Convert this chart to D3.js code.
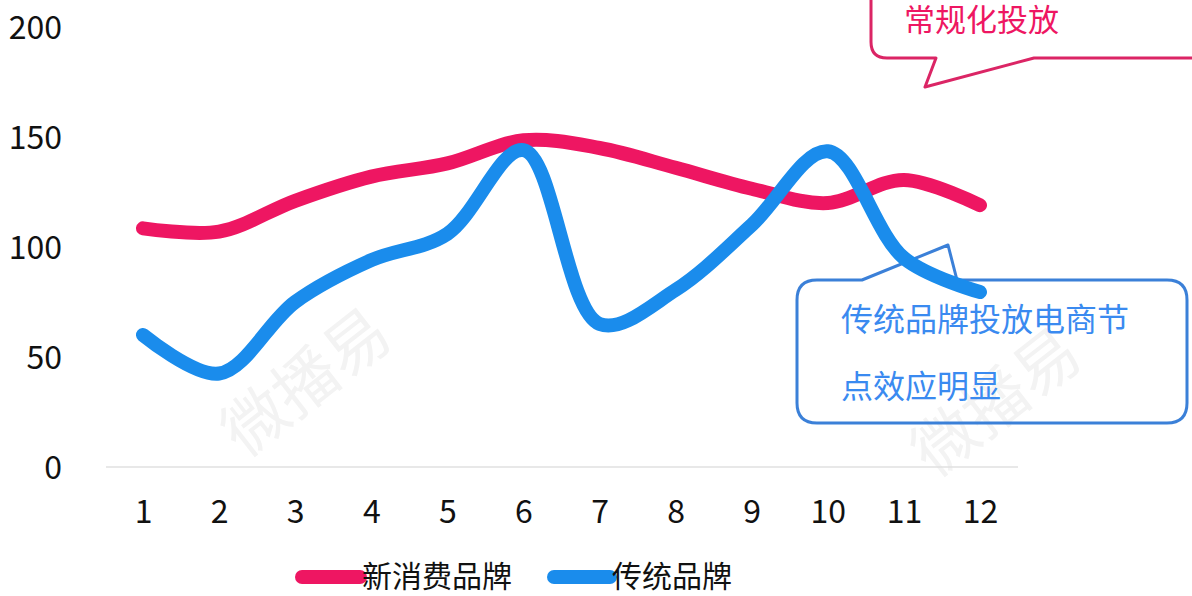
<!DOCTYPE html>
<html><head><meta charset="utf-8">
<script src="https://cdn.jsdelivr.net/npm/d3@7"></script>
<style>html,body{margin:0;padding:0;background:#fff;}svg{display:block;}</style>
</head><body>
<svg id="c" width="1192" height="596"></svg>
<script>
const months = [1,2,3,4,5,6,7,8,9,10,11,12];
const newBrand = [108.5,107,121,132,138,148.5,145,136,126.5,120,130.5,119];
const oldBrand = [60,42.5,75,94,106,144,65,80.5,110,143.5,95,79.5];
const yTicks = [0,50,100,150,200];
const seriesNames = ["新消费品牌","传统品牌"];
const noteTop = "常规化投放";
const noteBottom = ["传统品牌投放电商节","点效应明显"];

const RED = "#EE1662", BLUE = "#1A8CEC";
const svg = d3.select("#c");
const font = "'Noto Sans CJK SC','Noto Sans',sans-serif";

// faint watermarks
const wm = svg.append("g").attr("fill","#f3f3f3").attr("font-family",font).attr("font-size",64);
[[320,400],[1010,420]].forEach(([x,y])=>{
  wm.append("text").attr("transform",`translate(${x},${y}) rotate(-38)`).attr("text-anchor","middle").text("微播易");
});

const x = d3.scaleLinear().domain([1,12]).range([143,980]);
const y = d3.scaleLinear().domain([0,200]).range([467,27]);

// baseline
svg.append("line").attr("x1",106).attr("x2",1018).attr("y1",y(0)).attr("y2",y(0))
  .attr("stroke","#e0e0e0").attr("stroke-width",1.5);

// y labels
const yAxis = d3.axisLeft(y).tickValues(yTicks).tickSize(0).tickPadding(0);
const gy = svg.append("g").attr("transform","translate(62,0)").call(yAxis);
gy.select(".domain").remove();
gy.selectAll("text").attr("font-family",font).attr("font-size",32).attr("fill","#111").attr("dy","0.35em");

// x labels
const xAxis = d3.axisBottom(x).tickValues(months).tickSize(0).tickPadding(0).tickFormat(d3.format("d"));
const gx = svg.append("g").attr("transform","translate(0,512)").call(xAxis);
gx.select(".domain").remove();
gx.selectAll("text").attr("font-family",font).attr("font-size",32).attr("fill","#111").attr("dy","0.35em");

// callout top (pink)
svg.append("path")
  .attr("d","M871,-10 L871,42 Q871,58 887,58 L936,58 L925,87 L1034,58 L1200,58")
  .attr("fill","none").attr("stroke","#DB2565").attr("stroke-width",3).attr("stroke-linejoin","round");
svg.append("text").attr("x",904).attr("y",20).attr("dy","0.35em").attr("font-family",font)
  .attr("font-size",31).attr("fill",RED).text(noteTop);

// callout bottom (blue)
svg.append("path")
  .attr("d","M817,280 L862,280 L948,245 L957,280 L1167,280 Q1187,280 1187,300 L1187,403 Q1187,423 1167,423 L817,423 Q797,423 797,403 L797,300 Q797,280 817,280 Z")
  .attr("fill","none").attr("stroke","#3B80D8").attr("stroke-width",3).attr("stroke-linejoin","round");
noteBottom.forEach((t,i)=>{
  svg.append("text").attr("x",841).attr("y",320+i*67).attr("dy","0.35em").attr("font-family",font)
    .attr("font-size",32).attr("fill","#3A8AF0").text(t);
});

// lines
const line = d3.line().x((d,i)=>x(months[i])).y(d=>y(d)).curve(d3.curveCatmullRom.alpha(0.5));
[[newBrand,RED],[oldBrand,BLUE]].forEach(([data,col])=>{
  svg.append("path").datum(data).attr("d",line).attr("fill","none").attr("stroke",col)
    .attr("stroke-width",14).attr("stroke-linecap","round").attr("stroke-linejoin","round");
});

// legend
const legend = [[seriesNames[0],RED,302,360,362],[seriesNames[1],BLUE,554,610,612]];
legend.forEach(([name,col,x1,x2,tx])=>{
  svg.append("line").attr("x1",x1).attr("x2",x2).attr("y1",577).attr("y2",577)
    .attr("stroke",col).attr("stroke-width",14).attr("stroke-linecap","round");
  svg.append("text").attr("x",tx).attr("y",576).attr("dy","0.35em").attr("font-family",font)
    .attr("font-size",30).attr("fill","#111").text(name);
});
</script>
</body></html>
